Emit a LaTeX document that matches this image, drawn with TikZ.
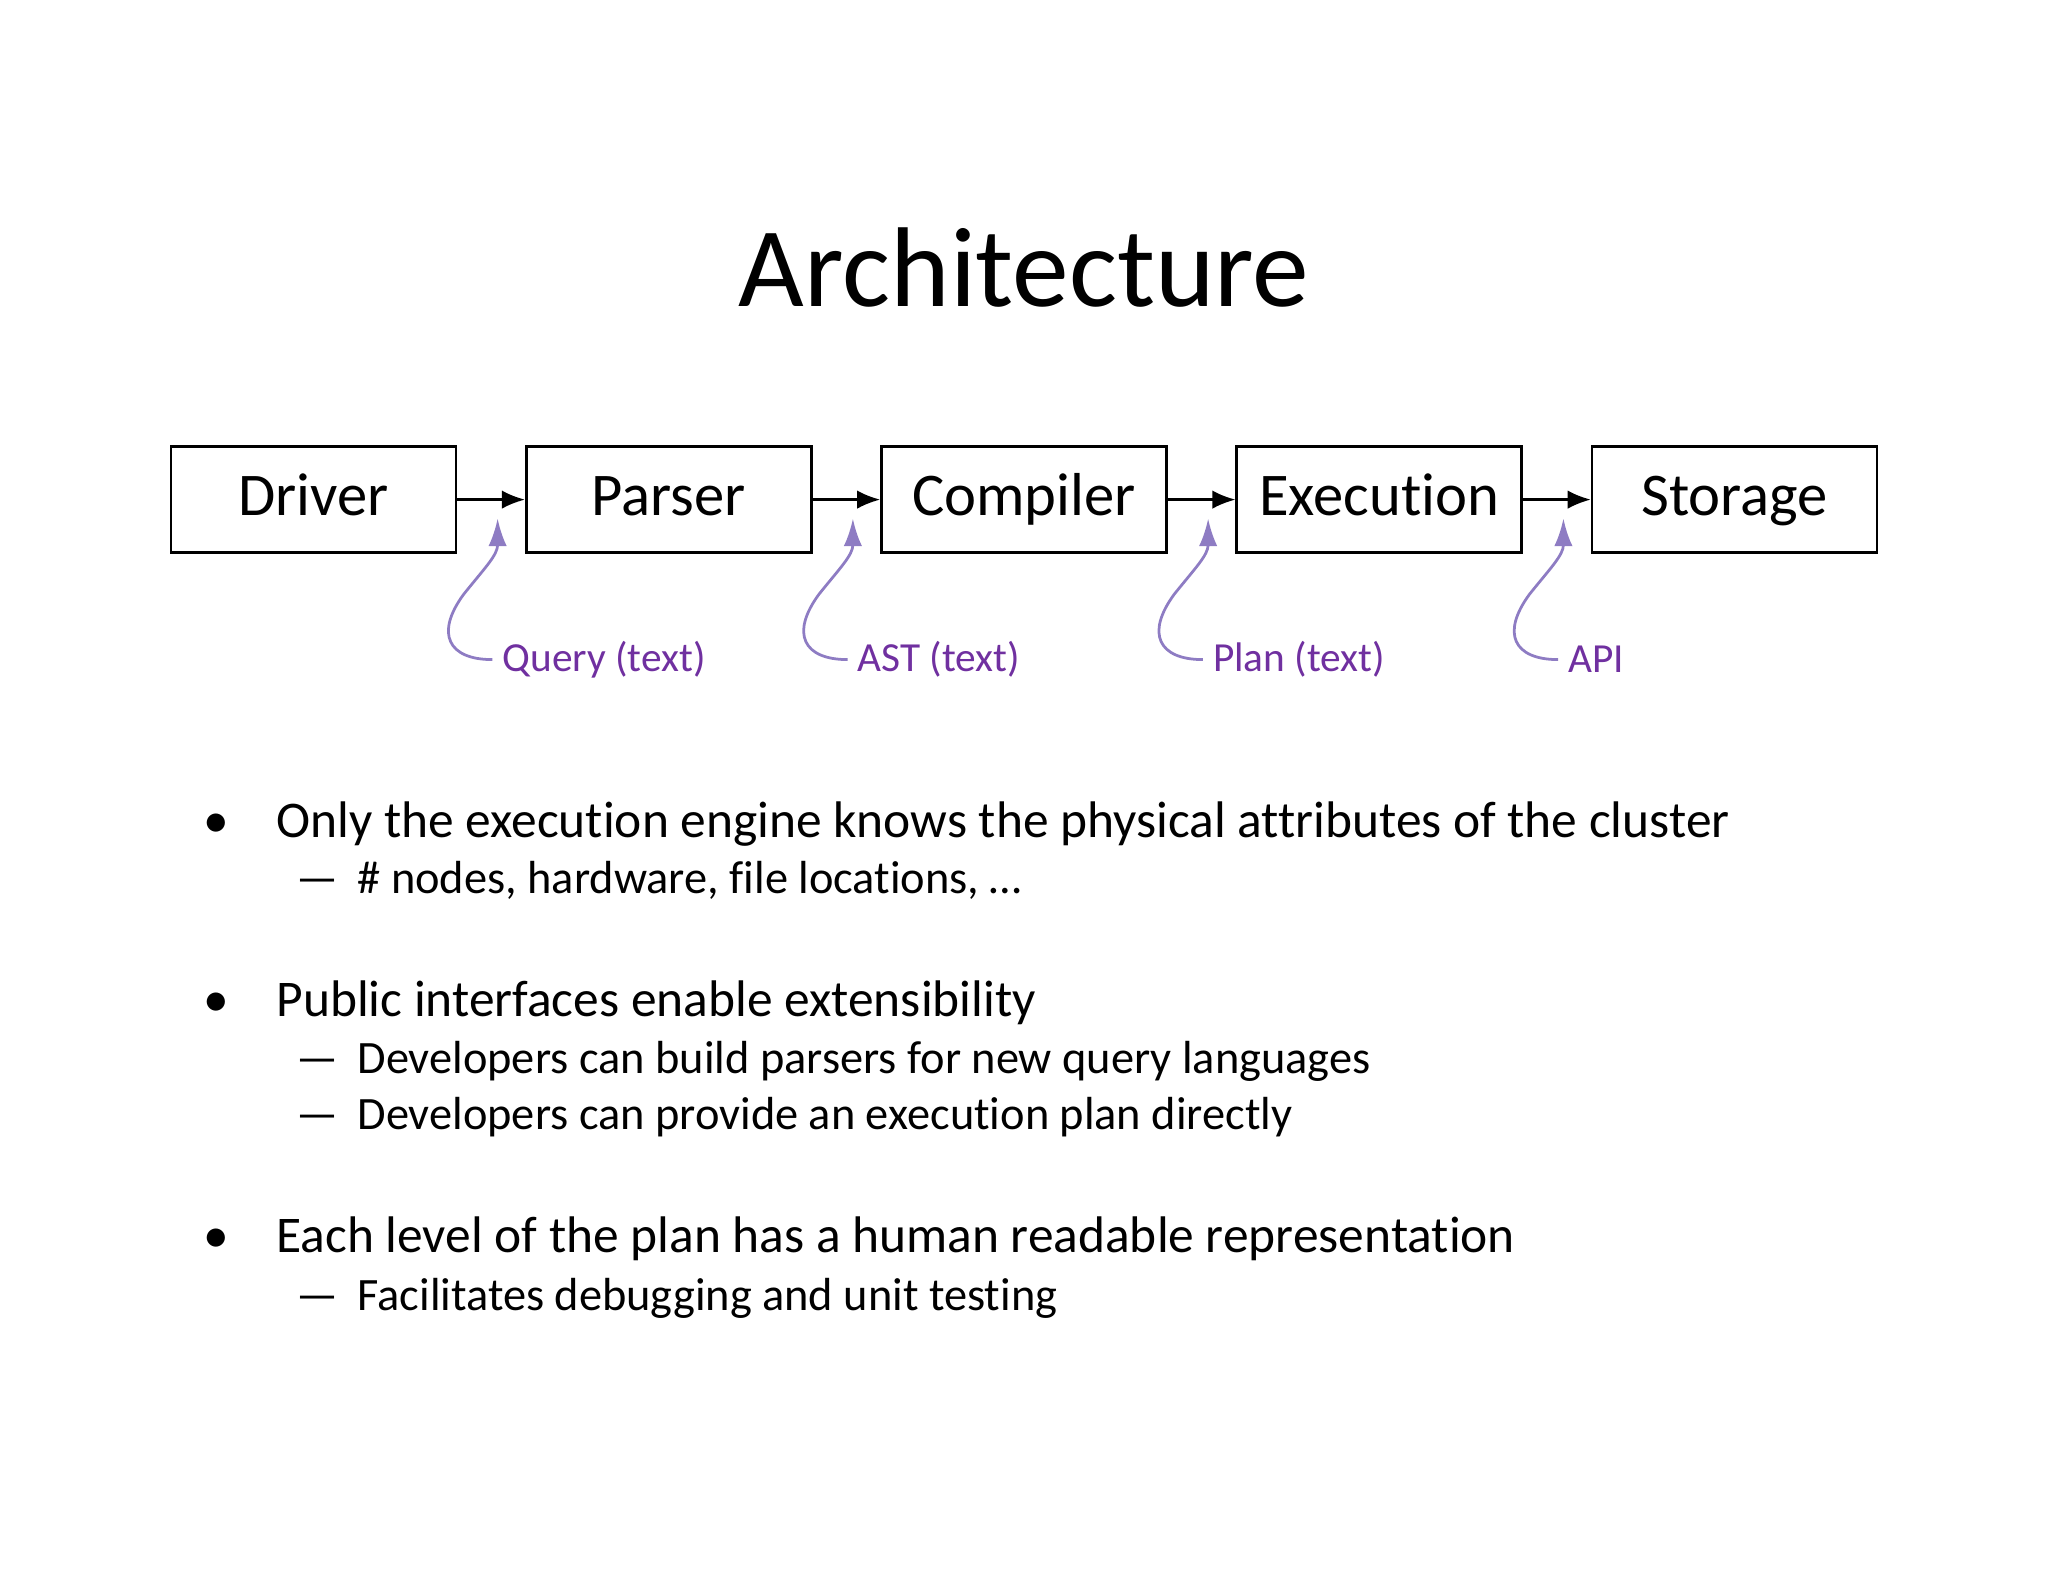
\documentclass[tikz,border=0pt]{standalone}
\usepackage{fontspec}
\setmainfont{Carlito}[Ligatures=NoCommon]
\usetikzlibrary{arrows.meta}
\definecolor{pur}{HTML}{7030A0}
\definecolor{pl}{HTML}{8E7CC3}
\begin{document}
\begin{tikzpicture}[x=0.01cm,y=-0.01cm,
  box/.style={draw,line width=0.6pt,minimum width=2.18cm,minimum height=0.81cm,inner sep=0,text height=9.5pt,text depth=2.5pt,font=\fontsize{13.2}{15}\selectfont},
  lab/.style={anchor=west,text=pur,font=\fontsize{9}{11}\selectfont,inner sep=2pt},
  flow/.style={-{Latex[length=5pt,width=4pt]},line width=0.5pt},
  cur/.style={-{Latex[length=6pt,width=4pt]},draw=pl,line width=0.6pt},
  txt/.style={anchor=base west,inner sep=0,font=\fontsize{11.2}{13}\selectfont},
  sub/.style={anchor=base west,inner sep=0,font=\fontsize{10.1}{12}\selectfont}]
\useasboundingbox (0,0) rectangle (1568,1211);
\node[font=\fontsize{24.7}{29}\selectfont] (title) at (784,205) {Architecture};
\node[box] (d) at (240,382.5) {Driver};
\node[box] (p) at (512,382.5) {Parser};
\node[box] (c) at (784,382.5) {Compiler};
\node[box] (e) at (1056,382.5) {Execution};
\node[box] (s) at (1328,382.5) {Storage};
\draw[flow] (d) -- (p);
\draw[flow] (p) -- (c);
\draw[flow] (c) -- (e);
\draw[flow] (e) -- (s);
\foreach \x/\t/\n in {377/Query (text)/q,649/AST (text)/a,921/Plan (text)/pl,1193/API/api}{
  \node[lab] (\n) at (\x,505) {\t};
  \draw[cur] (\n.west) .. controls (\x-34,505) and (\x-44,485) .. (\x-22,455) .. controls (\x-6,435) and (\x+4,425) .. (\x+4,397);
}
\node[txt] at (155,641) {•};
\node[txt] (b1) at (211,641) {Only the execution engine knows the physical attributes of the cluster};
\node[sub] at (226,684) {—};
\node[sub] (s1) at (273,684) {\# nodes, hardware, file locations, …};
\node[txt] at (155,778) {•};
\node[txt] (b2) at (211,778) {Public interfaces enable extensibility};
\node[sub] at (226,822) {—};
\node[sub] (s2) at (273,822) {Developers can build parsers for new query languages};
\node[sub] at (226,865) {—};
\node[sub] (s3) at (273,865) {Developers can provide an execution plan directly};
\node[txt] at (155,959) {•};
\node[txt] (b3) at (211,959) {Each level of the plan has a human readable representation};
\node[sub] at (226,1003) {—};
\node[sub] (s4) at (273,1003) {Facilitates debugging and unit testing};
\end{tikzpicture}
\end{document}
